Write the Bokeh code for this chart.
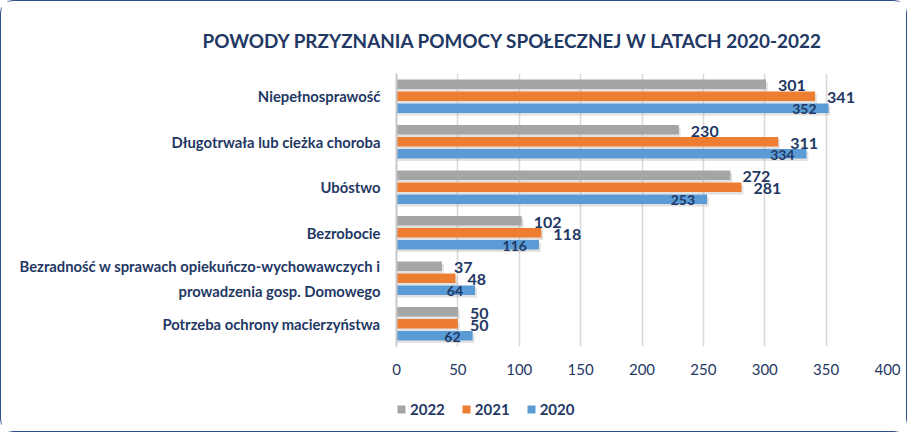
from bokeh.plotting import figure
from bokeh.layouts import column
from bokeh.models import (FactorRange, Range1d, FixedTicker, ColumnDataSource,
                          Legend, LegendItem, Title)
from bokeh.transform import dodge
from bokeh.core.properties import value
from bokeh.embed import file_html
from bokeh.resources import INLINE

# ---------------- data ----------------
title_text = "POWODY PRZYZNANIA POMOCY SPOŁECZNEJ W LATACH 2020-2022"
categories = [
    "Niepełnosprawość",
    "Długotrwała lub cieżka choroba",
    "Ubóstwo",
    "Bezrobocie",
    "Bezradność w sprawach opiekuńczo-wychowawczych i\nprowadzenia gosp. Domowego",
    "Potrzeba ochrony macierzyństwa",
]
v2022 = [301, 230, 272, 102, 37, 50]
v2021 = [341, 311, 281, 118, 48, 50]
v2020 = [352, 334, 253, 116, 64, 62]
years = ["2022", "2021", "2020"]
x_ticks = [0, 50, 100, 150, 200, 250, 300, 350, 400]

# ---------------- styles ----------------
NAVY = "#1F3864"
C2022 = "#A5A5A5"
C2021 = "#ED7D31"
C2020 = "#5B9BD5"
FONT = "Lato"
colors = {"2022": C2022, "2021": C2021, "2020": C2020}

src = ColumnDataSource(dict(
    cat=categories,
    y2022=v2022, y2021=v2021, y2020=v2020,
    s2022=[v + 1.5 for v in v2022],
    s2021=[v + 1.5 for v in v2021],
    s2020=[v + 1.5 for v in v2020],
    l2022=[str(v) for v in v2022],
    l2021=[str(v) for v in v2021],
    l2020=[str(v) for v in v2020],
))

p = figure(
    width=905, height=388,
    y_range=FactorRange(factors=list(reversed(categories)), range_padding=0),
    x_range=Range1d(0, 400),
    output_backend="svg", toolbar_location=None,
    min_border_left=395, min_border_right=19,
    min_border_top=72, min_border_bottom=43,
)
p.outline_line_color = None
p.background_fill_color = "white"
p.border_fill_color = "white"

pitch = 0.264
bar_h = 0.213
offsets = {"2022": pitch, "2021": 0.0, "2020": -pitch}

for yr in years:
    # soft shadow
    p.hbar(y=dodge("cat", offsets[yr] - 0.055, range=p.y_range), left=0,
           right="s" + yr, height=bar_h, source=src,
           fill_color="#8c8c8c", fill_alpha=0.25, line_color=None)
for yr in years:
    p.hbar(y=dodge("cat", offsets[yr], range=p.y_range), left=0,
           right="y" + yr, height=bar_h, source=src,
           fill_color=colors[yr], line_color=None)

# data labels
for yr in ["2022", "2021"]:
    p.text(x="y" + yr, y=dodge("cat", offsets[yr], range=p.y_range), text="l" + yr,
           source=src, x_offset=12, y_offset=1.5, text_align="left",
           text_baseline="middle", text_font=value(FONT), text_font_style="bold",
           text_font_size="16px", text_color=NAVY)
p.text(x="y2020", y=dodge("cat", offsets["2020"], range=p.y_range), text="l2020",
       source=src, x_offset=-12, y_offset=1, text_align="right",
       text_baseline="middle", text_font=value(FONT), text_font_style="bold",
       text_font_size="14px", text_color=NAVY)

# axes
p.xaxis.ticker = FixedTicker(ticks=x_ticks)
p.xaxis.axis_line_color = None
p.xaxis.major_tick_line_color = None
p.xaxis.minor_tick_line_color = None
p.xaxis.major_tick_out = 0
p.xaxis.major_label_standoff = 17
p.xaxis.major_label_text_font = FONT
p.xaxis.major_label_text_font_size = "15px"
p.xaxis.major_label_text_color = NAVY

p.yaxis.axis_line_color = "#C8C8C8"
p.yaxis.axis_line_width = 2
p.yaxis.major_tick_line_color = None
p.yaxis.minor_tick_line_color = None
p.yaxis.major_tick_out = 0
p.yaxis.major_label_standoff = 16
p.yaxis.major_label_text_font = FONT
p.yaxis.major_label_text_font_style = "bold"
p.yaxis.major_label_text_font_size = "14.8px"
p.yaxis.major_label_text_color = NAVY
p.yaxis.major_label_text_line_height = 1.4

p.xgrid.grid_line_color = "#D9D9D9"
p.xgrid.grid_line_width = 1.5
p.ygrid.grid_line_color = None

# title
p.title = Title(text=title_text, align="left", offset=-194, standoff=44,
                text_font=FONT, text_font_style="bold", text_font_size="18.9px",
                text_color=NAVY)

# ---------------- legend strip ----------------
leg = figure(width=905, height=42, x_range=Range1d(0, 1), y_range=Range1d(0, 1),
             output_backend="svg", toolbar_location=None,
             x_axis_type=None, y_axis_type=None,
             min_border=0, min_border_left=0, min_border_right=0,
             min_border_top=0, min_border_bottom=0)
leg.outline_line_color = None
leg.grid.visible = False
leg_src = ColumnDataSource(dict(y=[0.5], right=[0]))
items = []
for yr in years:
    r = leg.hbar(y="y", right="right", left=0, height=0.5, source=leg_src,
                 fill_color=colors[yr], line_color=None)
    items.append(LegendItem(label=yr, renderers=[r]))
legend = Legend(
    items=items, location=(0, 13), orientation="horizontal",
    border_line_color=None, background_fill_alpha=0,
    padding=0, margin=0, spacing=16, label_standoff=4,
    glyph_width=10, glyph_height=10, label_height=16,
    label_text_font=FONT, label_text_font_style="bold",
    label_text_font_size="15px", label_text_color=NAVY,
)
leg.add_layout(legend, "center")

layout = column(p, leg, spacing=0)
layout.styles = {"border": "1.5px solid #2F4F8A", "border-radius": "13px"}

open("out.html", "w").write(file_html(layout, INLINE))
